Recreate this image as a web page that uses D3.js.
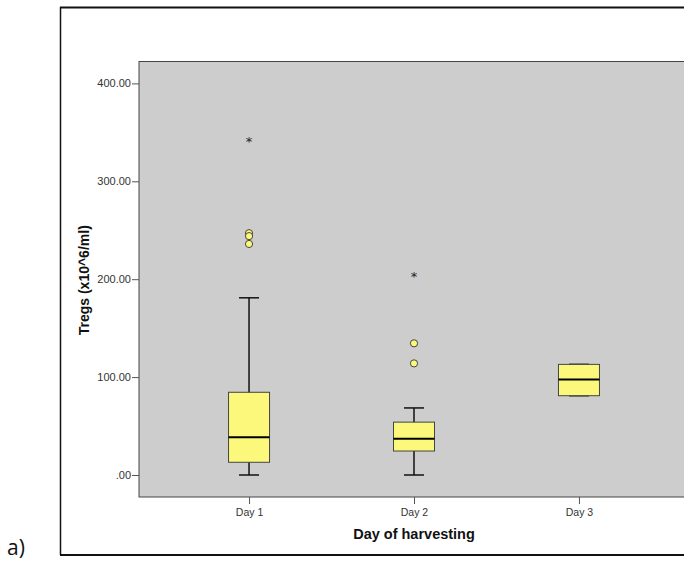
<!DOCTYPE html>
<html>
<head>
<meta charset="utf-8">
<script src="https://cdn.jsdelivr.net/npm/d3@7"></script>
<style>
  body { margin: 0; background: #fff; }
  svg { display: block; }
</style>
</head>
<body>
<svg id="chart" width="684" height="562"></svg>
<script>
// values
const days = ["Day 1", "Day 2", "Day 3"]
const lowerWhisker = [0, 0, 81]
const q1 = [13, 24.5, 81]
const median = [38.5, 37, 97.5]
const q3 = [84.5, 54, 113]
const upperWhisker = [181, 68.5, 113]
const outliers = [[247, 244, 236], [134.5, 114], []]
const extremes = [[342], [204.5], []]
const yTicks = [0, 100, 200, 300, 400]

const svg = d3.select("#chart")
const width = +svg.attr("width")
const height = +svg.attr("height")

const plot = {left: 139, top: 61.5, right: 689, bottom: 497}

const x = d3.scalePoint()
    .domain(days)
    .range([plot.left, plot.right])
    .padding(0.667)

const y = d3.scaleLinear()
    .domain([0, 400])
    .range([475, 83.4])

// outer frame
svg.append("line").attr("x1", 60).attr("x2", width).attr("y1", 7.5).attr("y2", 7.5)
    .attr("stroke", "#111").attr("stroke-width", 2)
svg.append("line").attr("x1", 60.5).attr("x2", 60.5).attr("y1", 7).attr("y2", 555)
    .attr("stroke", "#111").attr("stroke-width", 1.5)
svg.append("line").attr("x1", 60).attr("x2", width).attr("y1", 555).attr("y2", 555)
    .attr("stroke", "#111").attr("stroke-width", 2)

svg.append("text")
    .attr("x", 7).attr("y", 555)
    .attr("font-family", "Open Sans, sans-serif")
    .attr("font-size", 21)
    .attr("fill", "#111")
    .text("a)")

// plot background
svg.append("rect")
    .attr("x", plot.left).attr("y", plot.top)
    .attr("width", plot.right - plot.left).attr("height", plot.bottom - plot.top)
    .attr("fill", "#cdcdcd")
    .attr("stroke", "#444").attr("stroke-width", 1)

// axes
const yAxis = svg.append("g")
    .attr("transform", `translate(${plot.left},0)`)
    .call(d3.axisLeft(y).tickValues(yTicks).tickSize(7).tickPadding(1)
        .tickFormat(d => d === 0 ? ".00" : d3.format(".2f")(d)))
yAxis.select(".domain").remove()
yAxis.selectAll("line").attr("stroke", "#555")
yAxis.selectAll("text")
    .attr("font-family", "Liberation Sans, Arial, sans-serif")
    .attr("font-size", 11).attr("fill", "#333")

const xAxis = svg.append("g")
    .attr("transform", `translate(0,${plot.bottom})`)
    .call(d3.axisBottom(x).tickSize(7).tickPadding(5))
xAxis.select(".domain").remove()
xAxis.selectAll("line").attr("stroke", "#555")
xAxis.selectAll("text")
    .attr("font-family", "Liberation Sans, Arial, sans-serif")
    .attr("font-size", 10.5).attr("fill", "#333")

svg.append("text")
    .attr("transform", `translate(88.5,${(plot.top + plot.bottom) / 2 + 1}) rotate(-90)`)
    .attr("text-anchor", "middle")
    .attr("font-family", "Liberation Sans, Arial, sans-serif")
    .attr("font-weight", "bold").attr("font-size", 14).attr("fill", "#111")
    .text("Tregs (x10^6/ml)")

svg.append("text")
    .attr("x", x("Day 2")).attr("y", 539)
    .attr("text-anchor", "middle")
    .attr("font-family", "Liberation Sans, Arial, sans-serif")
    .attr("font-weight", "bold").attr("font-size", 14.5).attr("fill", "#111")
    .text("Day of harvesting")

// boxes
const boxW = 41
const capW = 20
const boxes = svg.append("g").selectAll("g")
    .data(days)
    .enter().append("g")

boxes.append("line")
    .attr("x1", d => x(d)).attr("x2", d => x(d))
    .attr("y1", (d, i) => y(upperWhisker[i])).attr("y2", (d, i) => y(lowerWhisker[i]))
    .attr("stroke", "#111").attr("stroke-width", 1.5)

boxes.append("line")
    .attr("x1", d => x(d) - capW / 2).attr("x2", d => x(d) + capW / 2)
    .attr("y1", (d, i) => y(upperWhisker[i])).attr("y2", (d, i) => y(upperWhisker[i]))
    .attr("stroke", "#111").attr("stroke-width", 1.5)

boxes.append("line")
    .attr("x1", d => x(d) - capW / 2).attr("x2", d => x(d) + capW / 2)
    .attr("y1", (d, i) => y(lowerWhisker[i])).attr("y2", (d, i) => y(lowerWhisker[i]))
    .attr("stroke", "#111").attr("stroke-width", 1.5)

boxes.append("rect")
    .attr("x", d => x(d) - boxW / 2)
    .attr("y", (d, i) => y(q3[i]))
    .attr("width", boxW)
    .attr("height", (d, i) => y(q1[i]) - y(q3[i]))
    .attr("fill", "#fbf87b")
    .attr("stroke", "#444").attr("stroke-width", 1)

boxes.append("line")
    .attr("x1", d => x(d) - boxW / 2).attr("x2", d => x(d) + boxW / 2)
    .attr("y1", (d, i) => y(median[i])).attr("y2", (d, i) => y(median[i]))
    .attr("stroke", "#000").attr("stroke-width", 2)

// outliers
const outPts = days.flatMap((d, i) => outliers[i].map(v => ({day: d, v})))
svg.append("g").selectAll("circle")
    .data(outPts)
    .enter().append("circle")
    .attr("cx", d => x(d.day))
    .attr("cy", d => y(d.v))
    .attr("r", 3.6)
    .attr("fill", "#fbf87b")
    .attr("stroke", "#444").attr("stroke-width", 1)

const extPts = days.flatMap((d, i) => extremes[i].map(v => ({day: d, v})))
svg.append("g").selectAll("text")
    .data(extPts)
    .enter().append("text")
    .attr("x", d => x(d.day))
    .attr("y", d => y(d.v) + 6)
    .attr("text-anchor", "middle")
    .attr("font-family", "DejaVu Sans, sans-serif")
    .attr("font-size", 13).attr("fill", "#222")
    .text("*")
</script>
</body>
</html>
